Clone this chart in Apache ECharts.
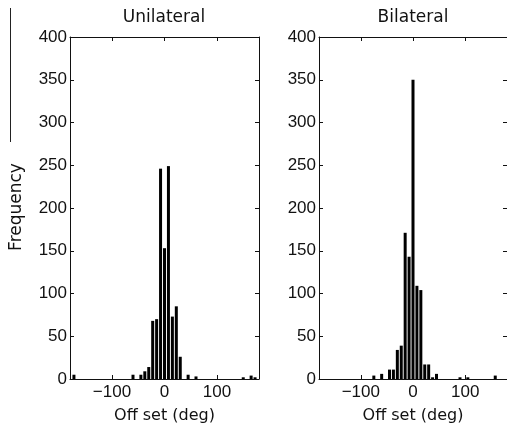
<!DOCTYPE html>
<html>
<head>
<meta charset="utf-8">
<script src="https://cdn.jsdelivr.net/npm/echarts@6/dist/echarts.min.js"></script>
<style>
  html, body { margin: 0; padding: 0; background: #fff; }
  #chart { width: 507px; height: 430px; }
</style>
</head>
<body>
<div id="chart"></div>
<script>
// Histogram data (bin centres in deg, counts)
const panelTitles = ['Unilateral', 'Bilateral'];
const unilateralOffsets = [-172.5, -60, -45, -37.5, -30, -22.5, -15, -7.5, 0, 7.5, 15, 22.5, 30, 45, 60, 150, 165, 172.5];
const unilateralCounts = [5, 5, 5, 9, 14, 68, 70, 246, 153, 249, 73, 85, 26, 5, 3, 2, 4, 2];
const bilateralOffsets = [-75, -60, -45, -37.5, -30, -22.5, -15, -7.5, 0, 7.5, 15, 22.5, 30, 37.5, 45, 90, 105, 157.5];
const bilateralCounts = [4, 6, 11, 11, 34, 39, 171, 143, 350, 109, 104, 17, 17, 2, 6, 2, 2, 4];
const xTicks = [-100, 0, 100];

const chart = echarts.init(document.getElementById('chart'), null, { renderer: 'canvas' });

const tickFont = 'Liberation Sans';
const textFont = 'DejaVu Sans';

const grids = [
  { left: 70, top: 37, width: 189, height: 342 },
  { left: 319, top: 37, width: 189, height: 342 }
];

const pairs = (xs, ys) => xs.map((x, i) => [x, ys[i]]);

const xAxes = [];
const yAxes = [];
[0, 1].forEach((g) => {
  // bottom axis with labels
  xAxes.push({
    type: 'value', gridIndex: g, min: -180, max: 180, position: 'bottom',
    name: 'Off set (deg)', nameLocation: 'middle', nameGap: 29,
    nameTextStyle: { fontFamily: textFont, fontSize: 16, color: '#111' },
    axisLine: { show: true, onZero: false, lineStyle: { color: '#111', width: 1 } },
    axisTick: { show: true, inside: true, length: 4, customValues: xTicks, lineStyle: { color: '#111' } },
    axisLabel: {
      show: true, customValues: xTicks, margin: 5, fontFamily: tickFont, fontSize: 17, color: '#111',
      formatter: (v) => String(v).replace('-', '\u2212')
    },
    splitLine: { show: false }
  });
  // top mirror axis
  xAxes.push({
    type: 'value', gridIndex: g, min: -180, max: 180, position: 'top',
    axisLine: { show: true, onZero: false, lineStyle: { color: '#111', width: 1 } },
    axisTick: { show: true, inside: true, length: 4, customValues: xTicks, lineStyle: { color: '#111' } },
    axisLabel: { show: false },
    splitLine: { show: false }
  });
  yAxes.push({
    type: 'value', gridIndex: g, min: 0, max: 400, interval: 50, position: 'left',
    axisLine: { show: true, onZero: false, lineStyle: { color: '#111', width: 1 } },
    axisTick: { show: true, inside: true, length: 4, lineStyle: { color: '#111' } },
    axisLabel: { show: true, margin: 3, fontFamily: tickFont, fontSize: 17, color: '#111' },
    splitLine: { show: false }
  });
  yAxes.push({
    type: 'value', gridIndex: g, min: 0, max: 400, interval: 50, position: 'right',
    axisLine: { show: true, onZero: false, lineStyle: { color: '#111', width: 1 } },
    axisTick: { show: true, inside: true, length: 4, lineStyle: { color: '#111' } },
    axisLabel: { show: false },
    splitLine: { show: false }
  });
});

const option = {
  animation: false,
  backgroundColor: '#fff',
  grid: grids,
  xAxis: xAxes,
  yAxis: yAxes,
  series: [
    {
      type: 'bar', xAxisIndex: 0, yAxisIndex: 0, barWidth: 3,
      itemStyle: { color: '#000' },
      data: pairs(unilateralOffsets, unilateralCounts)
    },
    {
      type: 'bar', xAxisIndex: 2, yAxisIndex: 2, barWidth: 3,
      itemStyle: { color: '#000' },
      data: pairs(bilateralOffsets, bilateralCounts)
    }
  ],
  graphic: [
    { type: 'text', x: 164, y: 18, style: { text: panelTitles[0], font: '17px "DejaVu Sans"', fill: '#111', align: 'center', verticalAlign: 'middle' } },
    { type: 'text', x: 413, y: 18, style: { text: panelTitles[1], font: '17px "DejaVu Sans"', fill: '#111', align: 'center', verticalAlign: 'middle' } },
    { type: 'text', x: 17, y: 207, rotation: Math.PI / 2, style: { text: 'Frequency', font: '17px "DejaVu Sans"', fill: '#111', align: 'center', verticalAlign: 'middle' } },
    { type: 'line', shape: { x1: 10.5, y1: 8, x2: 10.5, y2: 142 }, style: { stroke: '#222', lineWidth: 1 } }
  ]
};

chart.setOption(option);
</script>
</body>
</html>
